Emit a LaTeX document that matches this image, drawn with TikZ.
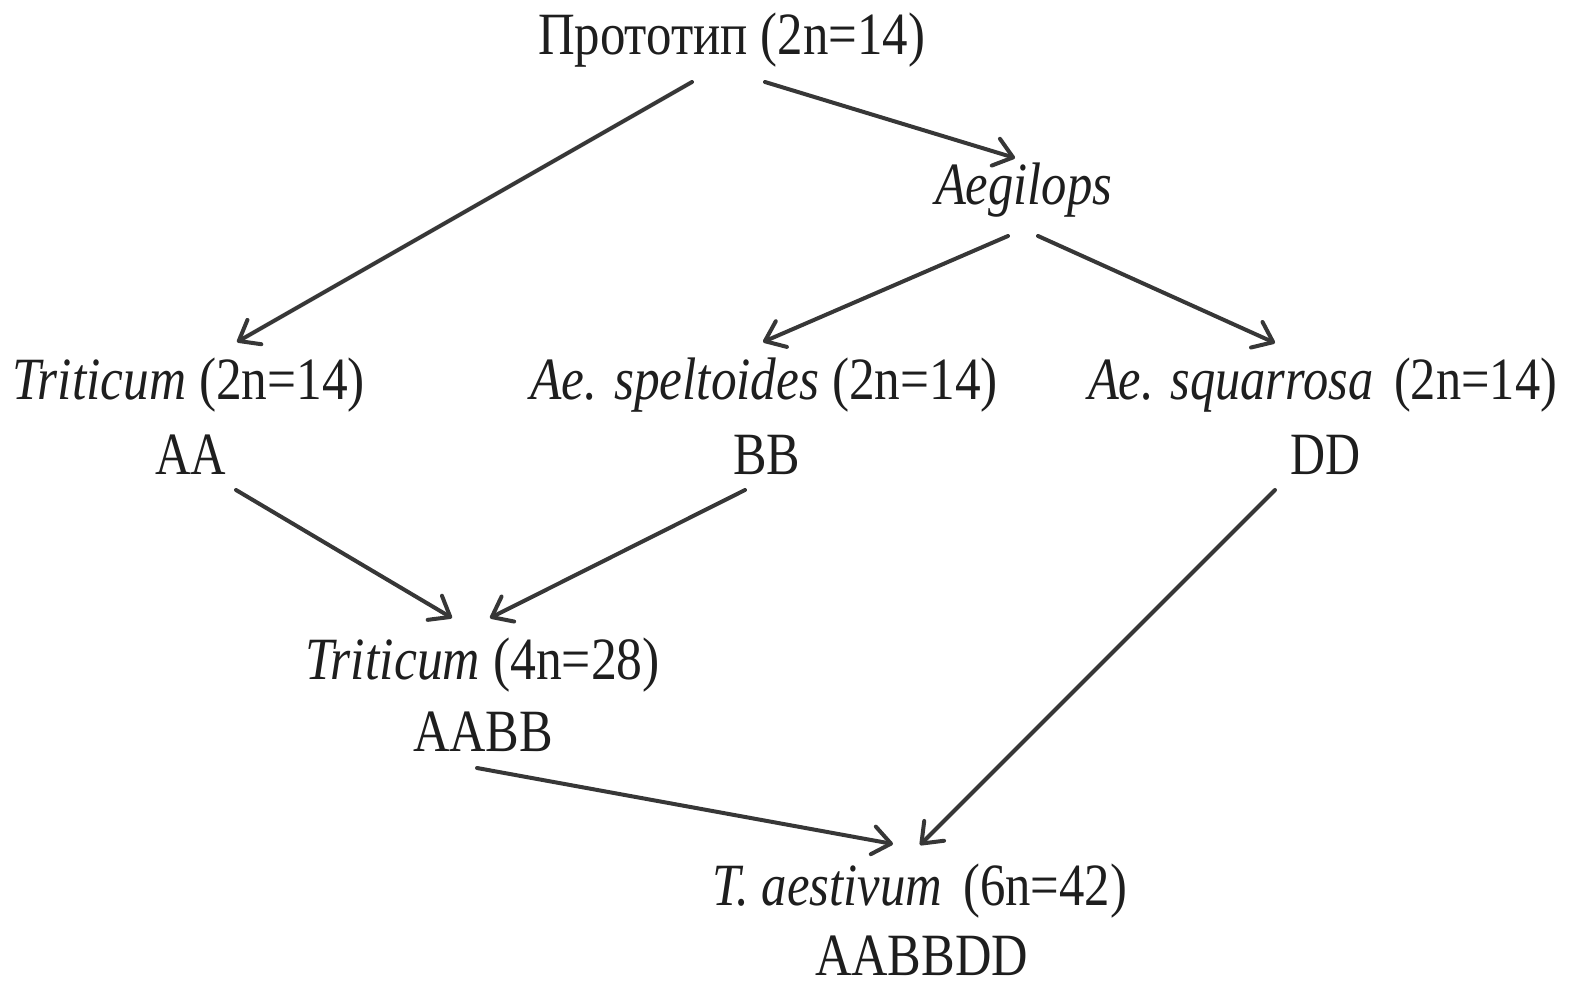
\documentclass[tikz,border=0pt]{standalone}
\usepackage{fontspec}
\setmainfont{Liberation Serif}
\usepackage{graphicx}
\usetikzlibrary{arrows.meta}
\definecolor{txt}{RGB}{30,30,30}
\definecolor{ln}{RGB}{55,55,55}
\newcommand{\wtext}[2]{\resizebox{#1pt}{\height}{#2}}
\begin{document}
\begin{tikzpicture}[x=0.5pt,y=-0.5pt,
  lbl/.style={inner sep=0pt, outer sep=0pt, anchor=base west, text=txt,
    font=\fontsize{30}{36}\selectfont},
  arr/.style={draw=ln, line width=2pt, line cap=round,
    -{Straight Barb[length=9pt,width=14pt,line width=2pt,line cap=round,line join=round]}}]
\useasboundingbox (0,0) rectangle (1575,983);
% nodes
\node[lbl] (proto) at (538,55) {\wtext{193.5}{Прототип (2n=14)}};
\node[lbl] (aeg) at (935,205) {\wtext{88.5}{\itshape Aegilops}};
\node[lbl] (trit2) at (12,400) {\wtext{176.5}{\textit{Triticum} (2n=14)}};
\node[lbl] (aa) at (155,475) {\wtext{35.5}{AA}};
\node[lbl] (spel) at (530,400) {\wtext{234}{\textit{Ae. speltoides} (2n=14)}};
\node[lbl] (bb) at (733,475) {\wtext{33.5}{BB}};
\node[lbl] (squa) at (1088,400) {\wtext{234.5}{\textit{Ae. squarrosa}\, (2n=14)}};
\node[lbl] (dd) at (1290,475) {\wtext{35}{DD}};
\node[lbl] (trit4) at (305,680) {\wtext{177.5}{\textit{Triticum} (4n=28)}};
\node[lbl] (aabb) at (413,752) {\wtext{70}{AABB}};
\node[lbl] (aest) at (712,905) {\wtext{207.5}{\textit{T. aestivum}\, (6n=42)}};
\node[lbl] (aabbdd) at (815,975) {\wtext{106.5}{AABBDD}};
% connectors
\draw[arr] ([shift={(154,27)}]proto.base west) -- ([shift={(225,-58)}]trit2.base west);
\draw[arr] ([shift={(227,27)}]proto.base west) -- ([shift={(80,-47)}]aeg.base west);
\draw[arr] ([shift={(73,31)}]aeg.base west) -- ([shift={(233,-58)}]spel.base west);
\draw[arr] ([shift={(103,31)}]aeg.base west) -- ([shift={(187,-57)}]squa.base west);
\draw[arr] ([shift={(81,15)}]aa.base west) -- ([shift={(147,-62)}]trit4.base west);
\draw[arr] ([shift={(12,15)}]bb.base west) -- ([shift={(185,-62)}]trit4.base west);
\draw[arr] ([shift={(-15,15)}]dd.base west) -- ([shift={(208,-60)}]aest.base west);
\draw[arr] ([shift={(64,16)}]aabb.base west) -- ([shift={(181,-61)}]aest.base west);
\end{tikzpicture}
\end{document}
